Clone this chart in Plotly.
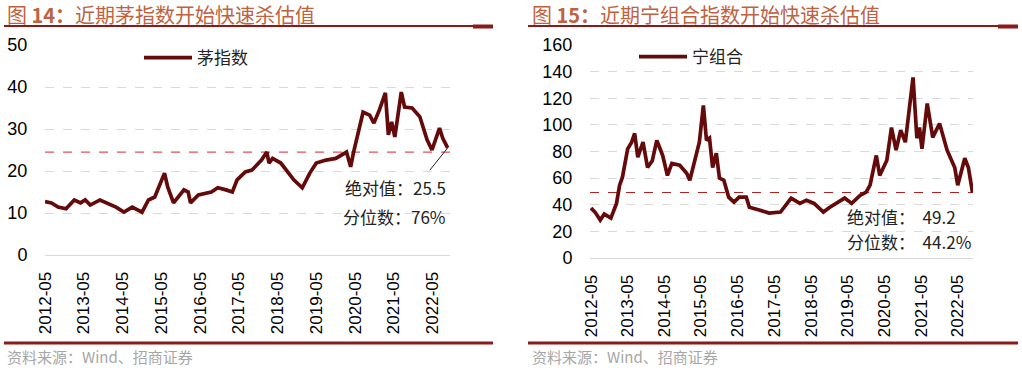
import plotly.graph_objects as go

W, H = 1022, 368

# ---------------- data ----------------
mao_dates = ["2012-05-01", "2012-07-01", "2012-09-01", "2012-11-15", "2013-02-01", "2013-04-01",
             "2013-05-15", "2013-07-01", "2013-10-01", "2013-12-01", "2014-03-01", "2014-05-15",
             "2014-08-01", "2014-11-01", "2015-01-01", "2015-03-01", "2015-04-15", "2015-06-01",
             "2015-07-01", "2015-08-25", "2015-12-01", "2016-01-10", "2016-02-01", "2016-04-15",
             "2016-08-15", "2016-10-15", "2017-01-01", "2017-03-01", "2017-04-15", "2017-07-01",
             "2017-09-01", "2017-11-01", "2017-12-01", "2018-01-20", "2018-02-10", "2018-03-15",
             "2018-06-01", "2018-10-01", "2018-12-20", "2019-03-01", "2019-05-01", "2019-08-01",
             "2019-11-01", "2020-02-10", "2020-03-20", "2020-04-15", "2020-06-15", "2020-07-15",
             "2020-09-15", "2020-10-25", "2020-12-15", "2021-02-10", "2021-03-10", "2021-04-10",
             "2021-05-10", "2021-07-10", "2021-08-10", "2021-10-20", "2022-01-01", "2022-03-10",
             "2022-04-25", "2022-07-05", "2022-08-05", "2022-09-20"]
mao_pe = [12.7, 12.4, 11.4, 11.0, 13.1, 12.4,
          13.1, 11.9, 13.1, 12.4, 11.4, 10.2,
          11.4, 10.2, 13.1, 13.8, 16.7, 19.5,
          16.2, 12.4, 15.5, 15.0, 12.4, 14.3,
          15.0, 16.0, 15.5, 15.0, 17.9, 19.8,
          20.2, 21.9, 22.6, 24.5, 21.9, 23.0,
          21.9, 17.9, 16.0, 19.5, 21.9, 22.6,
          23.0, 24.5, 21.0, 24.3, 31.4, 34.0,
          33.3, 31.4, 34.5, 38.6, 28.6, 31.7,
          28.1, 38.8, 35.2, 35.0, 32.9, 27.4,
          25.0, 30.2, 27.8, 25.5]

ning_dates = ["2012-05-01", "2012-06-10", "2012-08-01", "2012-09-10", "2012-11-15", "2013-01-10",
              "2013-02-10", "2013-03-10", "2013-05-01", "2013-06-10", "2013-07-10", "2013-08-10",
              "2013-10-01", "2013-11-15", "2014-01-01", "2014-02-15", "2014-03-15", "2014-04-15",
              "2014-06-01", "2014-07-15", "2014-10-01", "2014-12-10", "2015-01-10", "2015-03-01",
              "2015-04-15", "2015-05-25", "2015-06-25", "2015-07-25", "2015-08-25", "2015-10-01",
              "2015-11-01", "2015-12-15", "2016-02-01", "2016-03-25", "2016-05-15", "2016-07-25",
              "2016-08-25", "2016-12-01", "2017-03-10", "2017-07-01", "2017-10-15", "2018-01-10",
              "2018-03-15", "2018-06-01", "2018-09-01", "2018-11-01", "2019-01-10", "2019-04-01",
              "2019-06-10", "2019-09-01", "2019-11-01", "2019-12-10", "2020-02-10", "2020-03-15",
              "2020-05-25", "2020-07-10", "2020-08-25", "2020-10-10", "2020-11-25", "2021-02-10",
              "2021-03-20", "2021-04-15", "2021-05-10", "2021-07-01", "2021-08-25", "2021-11-01",
              "2022-01-15", "2022-04-01", "2022-05-01", "2022-07-10", "2022-08-15", "2022-09-25"]
ning_pe = [37.5, 34.5, 28.5, 33.0, 30.0, 41.0,
           54.7, 60.7, 82.0, 87.0, 93.6, 75.7,
           87.0, 68.0, 73.0, 88.4, 83.0, 77.0,
           62.0, 71.0, 69.7, 63.7, 58.4, 73.0,
           87.0, 114.6, 88.4, 90.0, 68.0, 78.7,
           60.0, 58.4, 45.7, 42.0, 45.7, 45.7,
           38.2, 36.0, 33.7, 34.5, 45.0, 41.0,
           43.4, 41.0, 34.5, 38.0, 41.0, 45.0,
           41.0, 47.0, 49.4, 54.7, 77.0, 62.0,
           73.4, 98.0, 81.0, 96.0, 87.0, 135.6,
           90.0, 98.0, 82.0, 116.0, 90.6, 101.0,
           81.0, 68.0, 54.7, 75.0, 68.0, 49.2]

x_tick_labels = ["2012-05", "2013-05", "2014-05", "2015-05", "2016-05", "2017-05",
                 "2018-05", "2019-05", "2020-05", "2021-05", "2022-05"]
mao_yticks = [0, 10, 20, 30, 40, 50]
ning_yticks = [0, 20, 40, 60, 80, 100, 120, 140, 160]

mao_ref = 24.5
ning_ref = 49.2
mao_abs, mao_pct = "25.5", "76%"
ning_abs, ning_pct = "49.2", "44.2%"

title_left = "图 <b>14：</b>近期茅指数开始快速杀估值"
title_right = "图 <b>15：</b>近期宁组合指数开始快速杀估值"
source_text = "资料来源：Wind、招商证券"

# ---------------- styles ----------------
LINE = "#650A0A"
RULE = "#8B1A1A"
TITLE_C = "#C0623F"
GRID = "#D9D9D9"
LAT = "Liberation Sans, Arial, sans-serif"
CJK = "Noto Sans CJK SC, sans-serif"

def px(x):
    return x / W

def py(y):
    return 1 - y / H

tickvals = [lab + "-01" for lab in x_tick_labels]

fig = go.Figure()
fig.add_trace(go.Scatter(x=mao_dates, y=mao_pe, mode="lines", name="茅指数",
                         line=dict(color=LINE, width=3.7), xaxis="x", yaxis="y",
                         legend="legend"))
fig.add_trace(go.Scatter(x=ning_dates, y=ning_pe, mode="lines", name="宁组合",
                         line=dict(color=LINE, width=3.7), xaxis="x2", yaxis="y2",
                         legend="legend2"))

xcommon = dict(type="date", tickvals=tickvals, ticktext=x_tick_labels, tickangle=-90,
               tickfont=dict(family=LAT, size=17, color="black"), showgrid=False,
               showline=True, linecolor=GRID, linewidth=1, ticks="outside", ticklen=9,
               tickcolor="rgba(0,0,0,0)", zeroline=False, fixedrange=True, automargin=False)
ycommon = dict(showgrid=True, gridcolor=GRID, griddash="dash", gridwidth=1,
               ticks="outside", ticklen=13, tickcolor="rgba(0,0,0,0)",
               tickfont=dict(family=LAT, size=18, color="black"), zeroline=False,
               showline=False, fixedrange=True, automargin=False)

leg_common = dict(xanchor="left", yanchor="top", itemwidth=48,
                  font=dict(family=CJK, size=17, color="#222"), bgcolor="rgba(0,0,0,0)")

fig.update_layout(
    width=W, height=H, margin=dict(l=0, r=0, t=0, b=0, autoexpand=False),
    paper_bgcolor="white", plot_bgcolor="white",
    xaxis=dict(domain=[px(45), px(450)], range=["2012-05-01", "2022-10-12"], anchor="y", **xcommon),
    yaxis=dict(domain=[py(255), py(45)], range=[0, 50], tickvals=mao_yticks, anchor="x", **ycommon),
    xaxis2=dict(domain=[px(590), px(973)], range=["2012-04-21", "2022-09-30"], anchor="y2", **xcommon),
    yaxis2=dict(domain=[py(258), py(45)], range=[0, 160], tickvals=ning_yticks, anchor="x2", **ycommon),
    legend=dict(x=px(139), y=py(40), **leg_common),
    legend2=dict(x=px(634), y=py(39), **leg_common),
    showlegend=True,
)

shapes = []
# reference dashed lines
shapes.append(dict(type="line", xref="x domain", yref="y", x0=0, x1=1, y0=mao_ref, y1=mao_ref,
                   line=dict(color="#E0505A", width=1.2, dash="dash"), layer="below"))
shapes.append(dict(type="line", xref="x2 domain", yref="y2", x0=0, x1=1, y0=ning_ref, y1=ning_ref,
                   line=dict(color="#B22222", width=1.2, dash="dash"), layer="below"))
# leader line from last point of left series
shapes.append(dict(type="line", xref="x", yref="y", x0=mao_dates[-1], y0=mao_pe[-1],
                   x1="2022-04-05", y1=20.2, line=dict(color="#222", width=1)))
# header rules
for (a, b) in [(4, 493), (528, 1018)]:
    shapes.append(dict(type="line", xref="paper", yref="paper", x0=px(a), x1=px(b),
                       y0=py(26), y1=py(26), line=dict(color=RULE, width=2)))
    shapes.append(dict(type="rect", xref="paper", yref="paper", x0=px(b - 20), x1=px(b),
                       y0=py(28.5), y1=py(24.5), line=dict(width=0), fillcolor=RULE))
    shapes.append(dict(type="line", xref="paper", yref="paper", x0=px(a), x1=px(b),
                       y0=py(343), y1=py(343), line=dict(color=RULE, width=3)))
fig.update_layout(shapes=shapes)

ann = []
ann.append(dict(text=title_left, x=px(5), y=py(14), xref="paper", yref="paper", xanchor="left",
                yanchor="middle", showarrow=False, font=dict(family=CJK, size=20, color=TITLE_C)))
ann.append(dict(text=title_right, x=px(530), y=py(14), xref="paper", yref="paper", xanchor="left",
                yanchor="middle", showarrow=False, font=dict(family=CJK, size=20, color=TITLE_C)))
for x0 in (5, 530):
    ann.append(dict(text=source_text, x=px(x0), y=py(356), xref="paper", yref="paper",
                    xanchor="left", yanchor="middle", showarrow=False,
                    font=dict(family=CJK, size=15, color="#A6A6A6")))
lab_font = dict(family=CJK, size=17, color="#222")
ann.append(dict(text="绝对值：" + mao_abs, x=px(448), y=py(187), xref="paper", yref="paper",
                xanchor="right", yanchor="middle", showarrow=False, font=lab_font))
ann.append(dict(text="分位数：" + mao_pct, x=px(448), y=py(216), xref="paper", yref="paper",
                xanchor="right", yanchor="middle", showarrow=False, font=lab_font))
ann.append(dict(text="绝对值：\u00a0\u00a0" + ning_abs, x=px(845), y=py(216), xref="paper", yref="paper",
                xanchor="left", yanchor="middle", showarrow=False, font=lab_font))
ann.append(dict(text="分位数：\u00a0\u00a0" + ning_pct, x=px(845), y=py(241), xref="paper", yref="paper",
                xanchor="left", yanchor="middle", showarrow=False, font=lab_font))
fig.update_layout(annotations=ann)

fig.write_html("out.html", config={"displayModeBar": False},
               post_script="document.body.style.margin='0';document.body.style.overflow='hidden';")
